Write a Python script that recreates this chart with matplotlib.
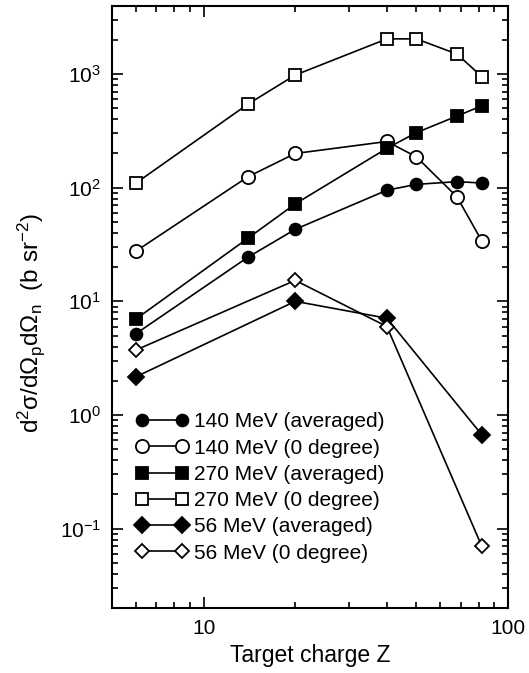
import matplotlib
matplotlib.use('Agg')
import matplotlib.pyplot as plt
from matplotlib.ticker import LogLocator, NullFormatter, FuncFormatter

plt.rcParams['font.family'] = ['Liberation Sans', 'DejaVu Sans']
plt.rcParams['mathtext.fontset'] = 'custom'
plt.rcParams['mathtext.rm'] = 'Liberation Sans'
plt.rcParams['mathtext.it'] = 'Liberation Sans'
plt.rcParams['mathtext.default'] = 'regular'
plt.rcParams['axes.unicode_minus'] = False

# Target charges
z_all = [6, 14, 20, 40, 50, 68, 82]
z_56 = [6, 20, 40, 82]

# Cross sections (b sr^-2)
e140_avg = [5.2, 24.5, 43, 95, 107, 113, 110]
e140_0deg = [27.7, 125, 200, 255, 187, 83, 34]
e270_avg = [7.0, 36, 72, 222, 305, 427, 525]
e270_0deg = [110, 545, 980, 2040, 2040, 1500, 950]
e56_avg = [2.17, 10, 7.1, 0.67]
e56_0deg = [3.73, 15.3, 6.0, 0.07]

labels = ['140 MeV (averaged)', '140 MeV (0 degree)', '270 MeV (averaged)',
          '270 MeV (0 degree)', '56 MeV (averaged)', '56 MeV (0 degree)']

fig = plt.figure(figsize=(5.29, 6.73), dpi=100)
ax = fig.add_axes([0.2117, 0.0966, 0.7486, 0.8950])

series = [
    (z_all, e140_avg, 'o', 'black', 8.5),
    (z_all, e140_0deg, 'o', 'white', 9.5),
    (z_all, e270_avg, 's', 'black', 8),
    (z_all, e270_0deg, 's', 'white', 8.5),
    (z_56, e56_avg, 'D', 'black', 8),
    (z_56, e56_0deg, 'D', 'white', 7),
]
for (x, y, m, fc, ms), lab in zip(series, labels):
    ax.plot(x, y, color='black', lw=1.2, marker=m, markersize=ms,
            markerfacecolor=fc, markeredgecolor='black', markeredgewidth=1.3,
            label=lab)

ax.set_xscale('log')
ax.set_yscale('log')
ax.set_xlim(5, 100)
ax.set_ylim(0.02, 4000)

ax.xaxis.set_major_locator(LogLocator(base=10))
ax.xaxis.set_minor_locator(LogLocator(base=10, subs=range(2, 10)))
ax.xaxis.set_minor_formatter(NullFormatter())
ax.xaxis.set_major_formatter(FuncFormatter(lambda v, p: f'{v:g}'))
ax.yaxis.set_minor_locator(LogLocator(base=10, subs=range(2, 10)))
ax.yaxis.set_minor_formatter(NullFormatter())

ax.tick_params(which='both', direction='in', top=True, right=True, labelsize=15, width=1.2)
ax.tick_params(which='major', length=8, pad=8)
ax.tick_params(which='minor', length=4)
for s in ax.spines.values():
    s.set_linewidth(1.5)

ax.set_xlabel('Target charge Z', fontsize=16.5, labelpad=4)
ax.set_ylabel(r'$d^2\sigma/d\Omega_p d\Omega_n$  (b sr$^{-2}$)', fontsize=17.5)
ax.yaxis.set_label_coords(-0.165, 0.473)

ax.legend(loc='upper left', bbox_to_anchor=(0.06, 0.325), frameon=False, fontsize=15,
          numpoints=2, handlelength=2.5, handletextpad=0.3, labelspacing=0.35,
          borderaxespad=0.0, borderpad=0.0)

fig.savefig('out.png', dpi=100)
